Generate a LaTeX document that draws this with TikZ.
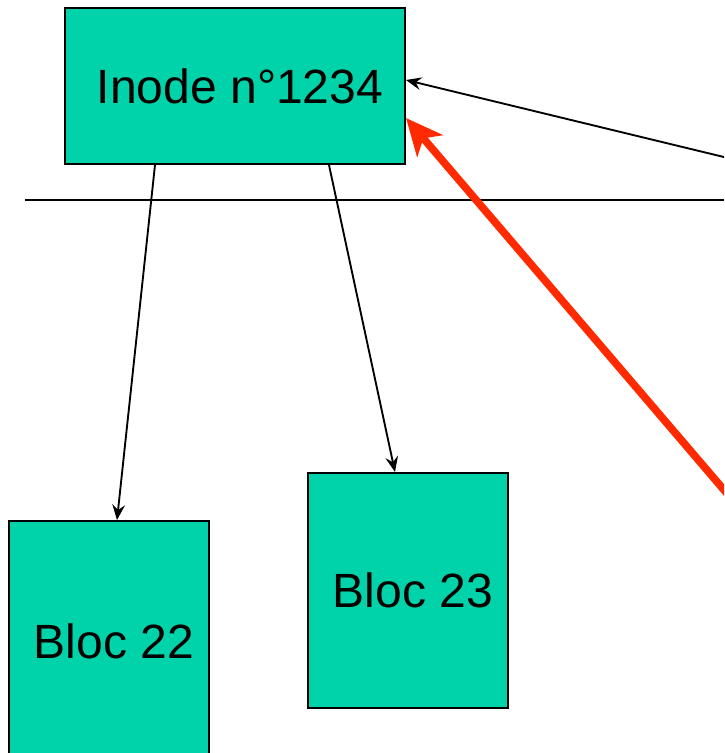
\documentclass[tikz,border=0pt]{standalone}
\usepackage{fontspec}
\setmainfont{Liberation Sans}
\usetikzlibrary{arrows.meta,calc}
\definecolor{blocteal}{RGB}{0,210,170}
\definecolor{linkred}{RGB}{255,42,0}

\begin{document}
\begin{tikzpicture}[x=0.03cm, y=-0.03cm,
    blk/.style={draw=black, line width=1.7pt, fill=blocteal, inner sep=0pt,
        font=\fontsize{41}{48}\selectfont, execute at begin node=\hspace*{0.3cm}},
    arr/.style={-{Stealth[length=4.6mm, width=3.8mm, inset=1.6mm]}, line width=1.6pt},
    redarr/.style={-{Stealth[length=11mm, width=10mm, inset=3mm]}, linkred, line width=6.5pt}
]
    \useasboundingbox (0,0) rectangle (724,753);
    \clip (0,0) rectangle (724,753);

    % inode and its data blocks
    \node[blk, minimum width=10.2cm, minimum height=4.68cm] (inode) at (235,86) {Inode n\textdegree1234};
    \node[blk, minimum width=6cm, minimum height=7.2cm] (bloc22) at (109,641) {Bloc 22};
    \node[blk, minimum width=6cm, minimum height=7.05cm] (bloc23) at (408,590.5) {Bloc 23};

    % separator
    \draw[line width=1.6pt] (25,200) coordinate (sepL) -- (724,200) coordinate (sepR);

    % pointers coming from off the page
    \coordinate (dirent) at (728,158);
    \coordinate (hardlink) at (730,497);

    \draw[arr] ($(inode.south west)+(91,0)$) -- ($(bloc22.north west)+(109,0)$);
    \draw[arr] ($(inode.south west)+(265,0)$) -- ($(bloc23.north west)+(88,0)$);
    \draw[arr] (dirent) -- ($(inode.north east)+(0,73)$);
    \draw[redarr] (hardlink) -- ($(inode.north east)+(0,111)$);
\end{tikzpicture}
\end{document}
